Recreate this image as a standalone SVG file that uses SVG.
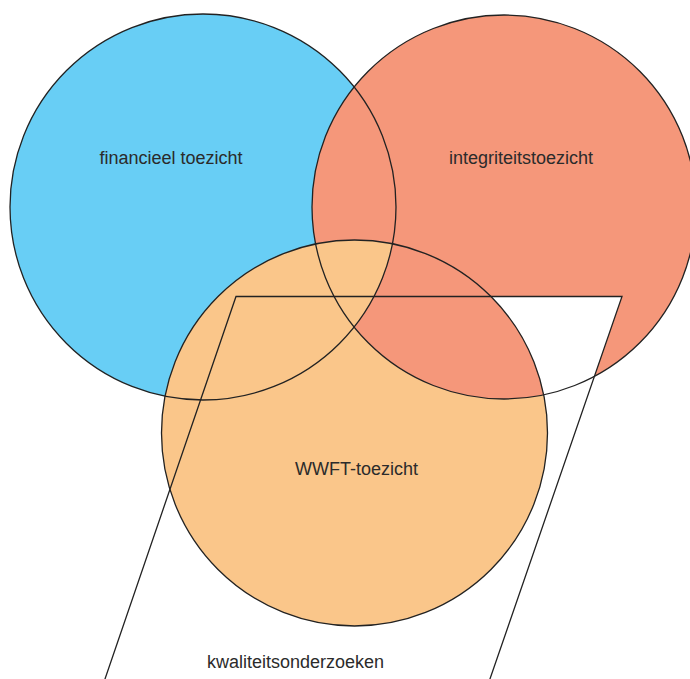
<svg xmlns="http://www.w3.org/2000/svg" width="690" height="679" viewBox="0 0 690 679">
  <style>
    .lbl { font-family: "Liberation Sans", Arial, sans-serif; font-size: 18px; fill: #2b2b2b; text-anchor: middle; }
    .edge { fill: none; stroke: #222; stroke-width: 1.3; }
    .blue { fill: #68CEF5; }
    .red { fill: #F5977A; }
    .orange { fill: #FAC68A; }
  </style>
  <defs>
    <circle id="cBlue" cx="203" cy="207" r="193"/>
    <circle id="cRed" cx="504" cy="207" r="192"/>
    <circle id="cOrange" cx="354.5" cy="433" r="193"/>
    <!-- the parallelogram runs off the bottom edge of the canvas -->
    <polygon id="para" points="236,296.5 622,296.5 482.7,700 97.8,700"/>
    <clipPath id="inOrange"><use href="#cOrange"/></clipPath>
    <clipPath id="inBlue"><use href="#cBlue"/></clipPath>
  </defs>

  <!-- fills, layered so each overlap takes the right colour -->
  <g id="fills">
    <use href="#cBlue" class="blue"/>
    <use href="#cRed" class="red"/>
    <use href="#para" fill="#ffffff"/>
    <use href="#cOrange" class="orange"/>
    <use href="#cRed" class="red" clip-path="url(#inOrange)"/>
    <use href="#cOrange" class="orange" clip-path="url(#inBlue)"/>
  </g>

  <g id="financieel">
    <use href="#cBlue" class="edge"/>
    <text class="lbl" x="171" y="164">financieel toezicht</text>
  </g>
  <g id="integriteit">
    <use href="#cRed" class="edge"/>
    <text class="lbl" x="521" y="164">integriteitstoezicht</text>
  </g>
  <g id="wwft">
    <use href="#cOrange" class="edge"/>
    <text class="lbl" x="356.5" y="475">WWFT-toezicht</text>
  </g>
  <g id="kwaliteit">
    <use href="#para" class="edge"/>
    <text class="lbl" x="295.5" y="668">kwaliteitsonderzoeken</text>
  </g>
</svg>
